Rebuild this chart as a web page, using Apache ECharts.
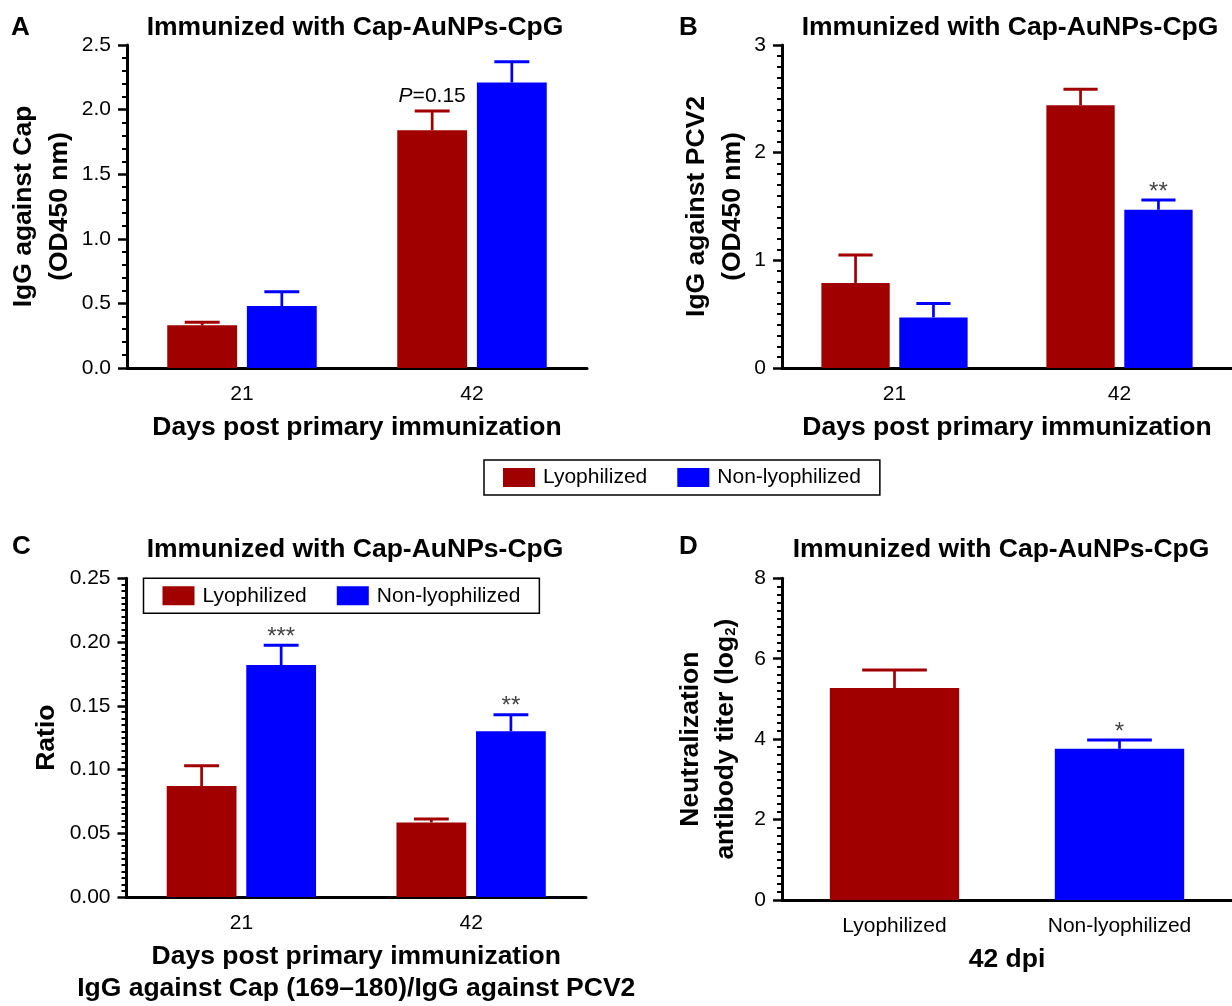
<!DOCTYPE html>
<html>
<head>
<meta charset="utf-8">
<script src="https://cdn.jsdelivr.net/npm/echarts@6/dist/echarts.min.js"></script>
<style>html,body{margin:0;padding:0;background:#fff}#c{width:1232px;height:1006px}</style>
</head>
<body>
<div id="c"></div>
<script>
// ---------- data ----------
const dayCats = ['21', '42'];
const seriesNames = ['Lyophilized', 'Non-lyophilized'];

const aLyo = [0.33, 1.84];
const aLyoUp = [0.355, 1.99];
const aNon = [0.48, 2.21];
const aNonUp = [0.59, 2.37];
const aLyoAnn = ['', '{i|P}=0.15'];
const aNonAnn = ['', ''];

const bLyo = [0.79, 2.44];
const bLyoUp = [1.05, 2.59];
const bNon = [0.47, 1.47];
const bNonUp = [0.60, 1.56];
const bLyoAnn = ['', ''];
const bNonAnn = ['', '**'];

const cLyo = [0.087, 0.0585];
const cLyoUp = [0.103, 0.0612];
const cNon = [0.182, 0.130];
const cNonUp = [0.1975, 0.143];
const cLyoAnn = ['', ''];
const cNonAnn = ['***', '**'];

const dCats = ['Lyophilized', 'Non-lyophilized'];
const dVals = [5.27, 3.76];
const dUp = [5.72, 3.98];
const dAnn = ['', '*'];

const aTicks = {min: 0, max: 2.5, interval: 0.5};
const bTicks = {min: 0, max: 3, interval: 1};
const cTicks = {min: 0, max: 0.25, interval: 0.05};
const dTicks = {min: 0, max: 8, interval: 2};

// ---------- style ----------
const RED = '#a00000', BLUE = '#0000ff';
const FONT = 'Liberation Sans, Arial, Helvetica, sans-serif';
const GROUP_CAT_GAP = 0.35, GROUP_BAR_GAP = 0.14, D_CAT_GAP = 0.425;

const chart = echarts.init(document.getElementById('c'), null, {renderer: 'canvas'});

function xAxisOf(gi, data, name, nameGap) {
  return {
    type: 'category', gridIndex: gi, data: data,
    name: name, nameLocation: 'middle', nameGap: nameGap,
    nameTextStyle: {fontFamily: FONT, fontSize: 26.5, fontWeight: 'bold', color: '#000', lineHeight: 32},
    axisLine: {lineStyle: {color: '#000', width: 3}},
    axisTick: {alignWithLabel: true, length: 10, lineStyle: {color: '#000', width: 2.5}},
    axisLabel: {fontFamily: FONT, fontSize: 21, color: '#000', margin: 16},
    splitLine: {show: false}
  };
}
function yAxisOf(gi, t, name, nameGap, lineH, decimals, minorSplit, rich) {
  return {
    type: 'value', gridIndex: gi, min: t.min, max: t.max, interval: t.interval,
    name: name, nameLocation: 'middle', nameGap: nameGap, nameRotate: 90,
    nameTextStyle: {fontFamily: FONT, fontSize: 26.5, fontWeight: 'bold', color: '#000', lineHeight: lineH, rich: rich},
    axisLine: {show: true, lineStyle: {color: '#000', width: 3}},
    axisTick: {show: true, length: 9, lineStyle: {color: '#000', width: 2.5}},
    minorTick: {show: true, splitNumber: minorSplit, length: 5, lineStyle: {color: '#000', width: 2}},
    axisLabel: {fontFamily: FONT, fontSize: 21, color: '#000', margin: 16,
      formatter: function (v) { return decimals >= 0 ? v.toFixed(decimals) : String(v); }},
    splitLine: {show: false}
  };
}
function bars(name, gi, data, color, catGap, barGap) {
  return {
    type: 'bar', name: name, xAxisIndex: gi, yAxisIndex: gi, data: data,
    itemStyle: {color: color}, barCategoryGap: (catGap * 100) + '%', barGap: (barGap * 100) + '%',
    emphasis: {disabled: true}, animation: false
  };
}
function errRender(anns, k, n, color, catGap, barGap, indexShift) {
  return function (params, api) {
    const ci = api.value(0), m = api.value(1), u = api.value(2);
    const band = api.size([1, 0])[0];
    const w = band * (1 - catGap) / (n + (n - 1) * barGap);
    const off = (k - (n - 1) / 2) * w * (1 + barGap);
    const pm = api.coord([ci, m]);
    const pu = api.coord([ci, u]);
    const x = pm[0] + off;
    const children = [
      {type: 'line', shape: {x1: x, y1: pm[1], x2: x, y2: pu[1]}, style: {stroke: color, lineWidth: 2.7}},
      {type: 'line', shape: {x1: x - w / 4, y1: pu[1], x2: x + w / 4, y2: pu[1]}, style: {stroke: color, lineWidth: 3}}
    ];
    const ann = anns[params.dataIndex + indexShift];
    if (ann) {
      const star = ann.charAt(0) === '*';
      children.push({
        type: 'text', x: x, y: pu[1] - (star ? 8 : 15),
        style: {
          text: ann, fontFamily: FONT, fontSize: star ? 24 : 21, fill: star ? '#444' : '#000',
          align: 'center', verticalAlign: 'middle',
          rich: {i: {fontStyle: 'italic', fontFamily: FONT, fontSize: 21, fill: '#000'}}
        }
      });
    }
    return {type: 'group', children: children};
  };
}
function errBars(gi, cats, means, ups, anns, k, n, color, catGap, barGap) {
  return {
    type: 'custom', xAxisIndex: gi, yAxisIndex: gi, animation: false, silent: true,
    data: cats.map(function (ci, j) { return [ci, means[j], ups[j]]; }),
    renderItem: errRender(anns, k, n, color, catGap, barGap, cats[0])
  };
}
function legendAt(left, top) {
  return {
    data: seriesNames, left: left, top: top, orient: 'horizontal',
    itemWidth: 32, itemHeight: 19, itemGap: 30, icon: 'rect',
    padding: [7, 19, 7, 19], borderColor: '#000', borderWidth: 1.5, borderRadius: 0,
    selectedMode: false,
    textStyle: {fontFamily: FONT, fontSize: 21, color: '#000', lineHeight: 21, padding: [0, 0, 0, 3]}
  };
}
function label(text, x, y, size, align) {
  return {type: 'text', x: x, y: y, silent: true,
    style: {text: text, fontFamily: FONT, fontSize: size, fontWeight: 'bold', fill: '#000',
      align: align, verticalAlign: 'middle'}};
}

const TITLE = 'Immunized with Cap-AuNPs-CpG';
const option = {
  backgroundColor: '#fff',
  animation: false,
  grid: [
    {left: 127, right: 645, top: 45, bottom: 638, containLabel: false},
    {left: 782, right: -6, top: 45, bottom: 638, containLabel: false},
    {left: 126.5, right: 646, top: 578.3, bottom: 106, containLabel: false},
    {left: 782, right: -6, top: 578.3, bottom: 106, containLabel: false}
  ],
  legend: [legendAt(484, 460), legendAt(143.5, 578.3)],
  xAxis: [
    xAxisOf(0, dayCats, 'Days post primary immunization', 44),
    xAxisOf(1, dayCats, 'Days post primary immunization', 44),
    xAxisOf(2, dayCats, 'Days post primary immunization\nIgG against Cap (169\u2013180)/IgG against PCV2', 44),
    xAxisOf(3, dCats, '42 dpi', 44)
  ],
  yAxis: [
    yAxisOf(0, aTicks, 'IgG against Cap\n(OD450 nm)', 41, 36, 1, 5),
    yAxisOf(1, bTicks, 'IgG against PCV2\n(OD450 nm)', 23, 36, -1, 10),
    yAxisOf(2, cTicks, 'Ratio', 62, 36, 2, 10),
    yAxisOf(3, dTicks, 'Neutralization\nantibody titer (log{sub|2})', 39, 35, -1, 10,
      {sub: {fontFamily: FONT, fontSize: 15, fontWeight: 'bold', color: '#000', padding: [10, 0, 0, 0]}})
  ],
  graphic: [
    label('A', 11, 28, 26, 'left'),
    label('B', 679, 28, 26, 'left'),
    label('C', 12, 547, 26, 'left'),
    label('D', 679, 547, 26, 'left'),
    label(TITLE, 355, 28, 26.5, 'center'),
    label(TITLE, 1010, 28, 26.5, 'center'),
    label(TITLE, 355, 550, 26.5, 'center'),
    label(TITLE, 1001, 550, 26.5, 'center')
  ],
  series: [
    bars(seriesNames[0], 0, aLyo, RED, GROUP_CAT_GAP, GROUP_BAR_GAP),
    bars(seriesNames[1], 0, aNon, BLUE, GROUP_CAT_GAP, GROUP_BAR_GAP),
    bars(seriesNames[0], 1, bLyo, RED, GROUP_CAT_GAP, GROUP_BAR_GAP),
    bars(seriesNames[1], 1, bNon, BLUE, GROUP_CAT_GAP, GROUP_BAR_GAP),
    bars(seriesNames[0], 2, cLyo, RED, GROUP_CAT_GAP, GROUP_BAR_GAP),
    bars(seriesNames[1], 2, cNon, BLUE, GROUP_CAT_GAP, GROUP_BAR_GAP),
    {
      type: 'bar', name: 'Neutralization', xAxisIndex: 3, yAxisIndex: 3,
      data: dVals.map(function (v, i) { return {value: v, itemStyle: {color: i === 0 ? RED : BLUE}}; }),
      barCategoryGap: (D_CAT_GAP * 100) + '%', emphasis: {disabled: true}, animation: false
    },
    errBars(0, [0, 1], aLyo, aLyoUp, aLyoAnn, 0, 2, RED, GROUP_CAT_GAP, GROUP_BAR_GAP),
    errBars(0, [0, 1], aNon, aNonUp, aNonAnn, 1, 2, BLUE, GROUP_CAT_GAP, GROUP_BAR_GAP),
    errBars(1, [0, 1], bLyo, bLyoUp, bLyoAnn, 0, 2, RED, GROUP_CAT_GAP, GROUP_BAR_GAP),
    errBars(1, [0, 1], bNon, bNonUp, bNonAnn, 1, 2, BLUE, GROUP_CAT_GAP, GROUP_BAR_GAP),
    errBars(2, [0, 1], cLyo, cLyoUp, cLyoAnn, 0, 2, RED, GROUP_CAT_GAP, GROUP_BAR_GAP),
    errBars(2, [0, 1], cNon, cNonUp, cNonAnn, 1, 2, BLUE, GROUP_CAT_GAP, GROUP_BAR_GAP),
    errBars(3, [0], [dVals[0]], [dUp[0]], dAnn, 0, 1, RED, D_CAT_GAP, 0),
    errBars(3, [1], [dVals[1]], [dUp[1]], dAnn, 0, 1, BLUE, D_CAT_GAP, 0)
  ]
};
chart.setOption(option);
</script>
</body>
</html>
